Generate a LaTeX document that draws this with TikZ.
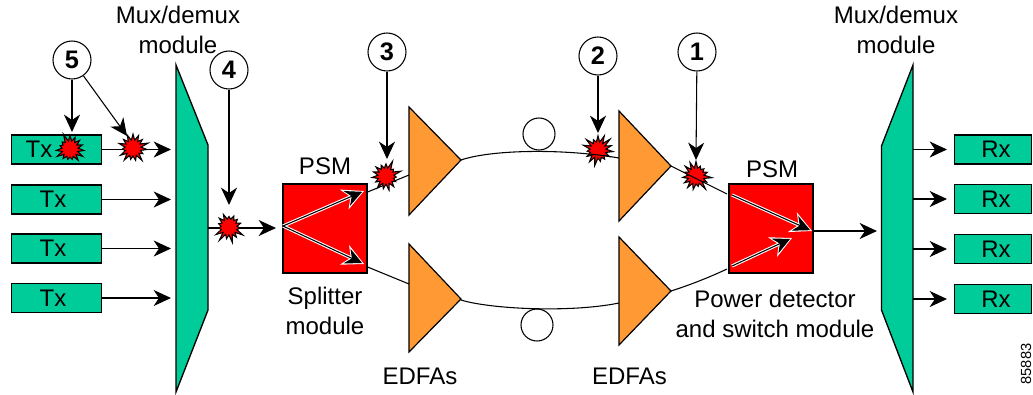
\documentclass[tikz,border=0pt]{standalone}
\usepackage{fontspec}
\setmainfont{Liberation Sans}
\usetikzlibrary{arrows.meta,shapes.symbols}
\definecolor{grn}{HTML}{00CC99}
\definecolor{org}{HTML}{FF9933}
\tikzset{
  px/.style={x=0.75pt,y=-0.75pt},
  lbl/.style={font=\fontsize{18}{22.5}\selectfont,inner sep=0pt,align=center},
  modbox/.style={draw,fill=grn,line width=1.1pt,minimum width=67.5pt,minimum height=21.5pt,inner sep=0pt,font=\fontsize{18}{21}\selectfont},
  psmbox/.style={draw,fill=red,line width=1.3pt,minimum width=62.6pt,minimum height=66.5pt,inner sep=0pt},
  num/.style={draw,fill=white,circle,line width=0.8pt,minimum size=28.5pt,inner sep=0pt,font=\bfseries\fontsize{19}{21}\selectfont},
  burst/.style={draw,fill=red,line width=0.8pt,shape=starburst,starburst points=15,starburst point height=6.5pt,minimum size=25pt,inner sep=0pt,random starburst=#1},
  arr/.style={line width=0.8pt,-{Stealth[length=13pt,width=12pt,inset=4pt]}},
  fib/.style={line width=0.8pt},
  amp/.style={draw,fill=org,line width=0.9pt,line join=miter},
  mux/.style={draw,fill=grn,line width=1pt},
  loopc/.style={draw,circle,line width=0.8pt,minimum size=24pt,inner sep=0pt},
  wbg/.style={white,line width=2.4pt,-{Stealth[length=16pt,width=16pt,inset=5pt]}},
  wfg/.style={black,line width=0.8pt,shorten >=1.5pt,-{Stealth[length=12.5pt,width=12pt,inset=4pt]}},
}
\begin{document}
\begin{tikzpicture}[px]
\useasboundingbox (0,0) rectangle (1033,394);
% bursts under the fibres
\node[burst=21] (b2) at (598,150) {};
\node[burst=34] (b1) at (696,176) {};
% fibres
\coordinate (fa) at (461,160); \coordinate (fb) at (619,158);
\coordinate (fc) at (461,300); \coordinate (fd) at (619,303);
\coordinate (fe) at (671,166); \coordinate (ff) at (671,291);
\draw[fib] (fa) .. controls (490,150) and (560,148) .. (fb);
\draw[fib] (fc) .. controls (490,309) and (570,313) .. (fd);
\node[psmbox] (psmL) at (325,228.5) {};
\node[psmbox] (psmR) at (771,228.5) {};
\coordinate (aL) at (409,175); \coordinate (bL) at (409,284);
\coordinate (aR) at (727,194); \coordinate (bR) at (727,269);
\draw[fib] (psmL.north east |- 0,192) -- (aL);
\draw[fib] (psmL.north east |- 0,267) -- (bL);
\draw[fib] (fe) -- (aR);
\draw[fib] (ff) .. controls (690,285) and (710,277) .. (bR);
% muxes
\draw[mux] (176,65) -- (208,145) -- (208,310) -- (176,392) -- cycle;
\draw[mux] (913,65) -- (881.5,146) -- (881.5,310) -- (913,392) -- cycle;
% amps
\draw[amp] (409,107) -- (461,160) -- (409,215) -- cycle;
\draw[amp] (409,244) -- (461,299) -- (409,352) -- cycle;
\draw[amp] (619,111) -- (671,166) -- (619,221) -- cycle;
\draw[amp] (619,237) -- (671,291) -- (619,345) -- cycle;
% loops
\node[loopc] (loopA) at (539,134) {};
\node[loopc] (loopB) at (537,325) {};
% Tx / Rx
\node[modbox] (tx1) at (56.7,149.5) {Tx\kern26.5pt\relax};
\node[modbox] (tx2) at (56.7,199.5) {Tx\kern5.5pt\relax};
\node[modbox] (tx3) at (56.7,248.5) {Tx\kern5.5pt\relax};
\node[modbox] (tx4) at (56.7,298) {Tx\kern5.5pt\relax};
\node[modbox,minimum width=57.5pt] (rx1) at (993,149.5) {\kern4.5pt Rx};
\node[modbox,minimum width=57.5pt] (rx2) at (993,199) {\kern4.5pt Rx};
\node[modbox,minimum width=57.5pt] (rx3) at (993,249) {\kern4.5pt Rx};
\node[modbox,minimum width=57.5pt] (rx4) at (993,299) {\kern4.5pt Rx};
% connectors to and from the muxes
\coordinate (m1) at (171,149.5);\coordinate (m2) at (171,199.5);\coordinate (m3) at (171,248.5);\coordinate (m4) at (171,298);
\draw[arr] (tx1.east) -- (m1);
\draw[arr] (tx2.east) -- (m2);
\draw[arr] (tx3.east) -- (m3);
\draw[arr] (tx4.east) -- (m4);
\coordinate (o1) at (913,149.5);\coordinate (o2) at (913,199);\coordinate (o3) at (913,249);\coordinate (o4) at (913,299);
\coordinate (e1) at (947,149.5);\coordinate (e2) at (947,199);\coordinate (e3) at (947,249);\coordinate (e4) at (947,299);
\draw[arr] (o1) -- (e1);
\draw[arr] (o2) -- (e2);
\draw[arr] (o3) -- (e3);
\draw[arr] (o4) -- (e4);
\coordinate (mo) at (208,228); \coordinate (mi) at (276,228);
\draw[arr] (mo) -- (mi);
\coordinate (so) at (813,231); \coordinate (si) at (877,231);
\draw[arr] (so) -- (si);
\node[burst=5] (b5a) at (70,149) {};
\node[burst=8] (b5b) at (133,148) {};
\node[burst=13] (b4) at (229,227) {};
\node[burst=55] (b3) at (386,176) {};
% numbers
\node[num] (n5) at (72,60) {5};
\node[num] (n4) at (229,70) {4};
\node[num] (n3) at (387,52) {3};
\node[num] (n2) at (598,56) {2};
\node[num] (n1) at (697,52) {1};
\coordinate (t5a) at (72,132); \coordinate (t5b) at (127,136);
\draw[arr] (n5) -- (t5a);
\draw[arr] (n5) -- (t5b);
\coordinate (t4) at (229,205); \coordinate (t3) at (387,159);
\coordinate (t2) at (598,133); \coordinate (t1) at (696,160);
\draw[arr] (n4) -- (t4);
\draw[arr] (n3) -- (t3);
\draw[arr] (n2) -- (t2);
\draw[arr] (n1) -- (t1);
% PSM inner arrows
\coordinate (sp) at (283,226);\coordinate (s1) at (364,191);\coordinate (s2) at (364,264);
\draw[wbg] (sp) -- (s1); \draw[wbg] (sp) -- (s2);
\draw[wfg] (sp) -- (s1); \draw[wfg] (sp) -- (s2);
\coordinate (r1) at (732,195);\coordinate (r2) at (812,231);\coordinate (r3) at (732,266);\coordinate (r4) at (792,238);
\draw[wbg] (r1) -- (r2); \draw[wbg] (r3) -- (r4);
\draw[wfg] (r1) -- (r2); \draw[wfg] (r3) -- (r4);
% labels
\node[lbl] (l1) at (178,30) {Mux/demux\\module};
\node[lbl] (l2) at (896,30) {Mux/demux\\module};
\node[lbl] (l3) at (325,166) {PSM};
\node[lbl] (l4) at (772,169) {PSM};
\node[lbl] (l5) at (325,311) {Splitter\\module};
\node[lbl] (l6) at (775,314) {Power detector\\and switch module};
\node[lbl] (l7) at (420,376) {EDFAs};
\node[lbl] (l8) at (629.5,376) {EDFAs};
\node[font=\fontsize{11}{12}\selectfont,rotate=90,inner sep=0pt] (l9) at (1026,364) {85883};
\end{tikzpicture}
\end{document}
